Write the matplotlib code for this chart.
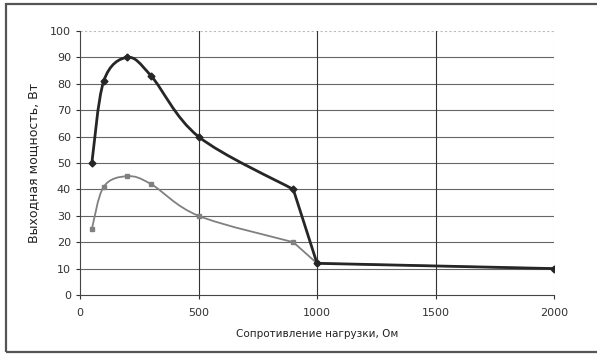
import numpy as np
import matplotlib
matplotlib.use("Agg")
import matplotlib.pyplot as plt
from matplotlib.path import Path
from matplotlib.patches import PathPatch, Rectangle

# load resistance, Ohm
resistance = [50, 100, 200, 300, 500, 900, 1000, 2000]
# output power, W
power_high = [50, 81, 90, 83, 60, 40, 12, 10]
power_low = [25, 41, 45, 42, 30, 20, 12, 10]

x_ticks = [0, 500, 1000, 1500, 2000]
y_ticks = [0, 10, 20, 30, 40, 50, 60, 70, 80, 90, 100]


def smooth_path(xs, ys, n_smooth, sx=474 / 2000, sy=264 / 100):
    """Bezier path (Catmull-Rom style, like Excel smoothing) for the first
    n_smooth points, straight segments afterwards."""
    px = np.array(xs, float) * sx
    py = np.array(ys, float) * sy
    verts = [(xs[0], ys[0])]
    codes = [Path.MOVETO]
    n = len(xs)
    for i in range(n - 1):
        if i < n_smooth - 1:
            p0 = max(i - 1, 0)
            p3 = min(i + 2, n_smooth - 1)
            c1 = (px[i] + (px[i + 1] - px[p0]) / 6, py[i] + (py[i + 1] - py[p0]) / 6)
            c2 = (px[i + 1] - (px[p3] - px[i]) / 6, py[i + 1] - (py[p3] - py[i]) / 6)
            verts += [(c1[0] / sx, c1[1] / sy), (c2[0] / sx, c2[1] / sy), (xs[i + 1], ys[i + 1])]
            codes += [Path.CURVE4] * 3
        else:
            verts.append((xs[i + 1], ys[i + 1]))
            codes.append(Path.LINETO)
    return Path(verts, codes)


fig = plt.figure(figsize=(5.97, 3.54), dpi=100)
fig.patches.append(Rectangle((6 / 597, 2 / 354), 1.0, 348 / 354, transform=fig.transFigure,
                             fill=False, edgecolor="#555555", linewidth=1.6))
ax = fig.add_axes([80 / 597, 59 / 354, 474 / 597, 264 / 354])

for y in y_ticks[1:-1]:
    ax.axhline(y, color="#666666", linewidth=0.8, zorder=1)
ax.axhline(100, color="#bbbbbb", linewidth=0.8, linestyle=(0, (2, 2)), zorder=1)
for x in x_ticks[1:-1]:
    ax.axvline(x, color="#333333", linewidth=0.8, zorder=1)
ax.axvline(2000, color="#bbbbbb", linewidth=0.8, linestyle=(0, (2, 2)), zorder=1)

ax.add_patch(PathPatch(smooth_path(resistance, power_low, 6), fill=False,
                       edgecolor="#808080", linewidth=1.3, zorder=3))
ax.plot(resistance, power_low, linestyle="none", marker="s", markersize=3,
        color="#808080", zorder=4)
ax.add_patch(PathPatch(smooth_path(resistance, power_high, 6), fill=False,
                       edgecolor="#262626", linewidth=2.0, zorder=5))
ax.plot(resistance, power_high, linestyle="none", marker="D", markersize=3.5,
        color="#262626", zorder=6)

ax.set_xlim(0, 2000)
ax.set_ylim(0, 100)
ax.set_xticks(x_ticks)
ax.set_yticks(y_ticks)
for s in ["top", "right"]:
    ax.spines[s].set_visible(False)
ax.spines["left"].set_color("#444444")
ax.spines["bottom"].set_color("#444444")
ax.tick_params(axis="both", labelsize=8, colors="#333333", length=3, width=0.8)
ax.tick_params(axis="x", pad=6)
ax.set_xlabel("Сопротивление нагрузки, Ом", fontsize=7.5, color="#222222", labelpad=8)
ax.set_ylabel("Выходная мощность, Вт", fontsize=9, color="#222222", labelpad=7)

fig.savefig("out.png", dpi=100)
